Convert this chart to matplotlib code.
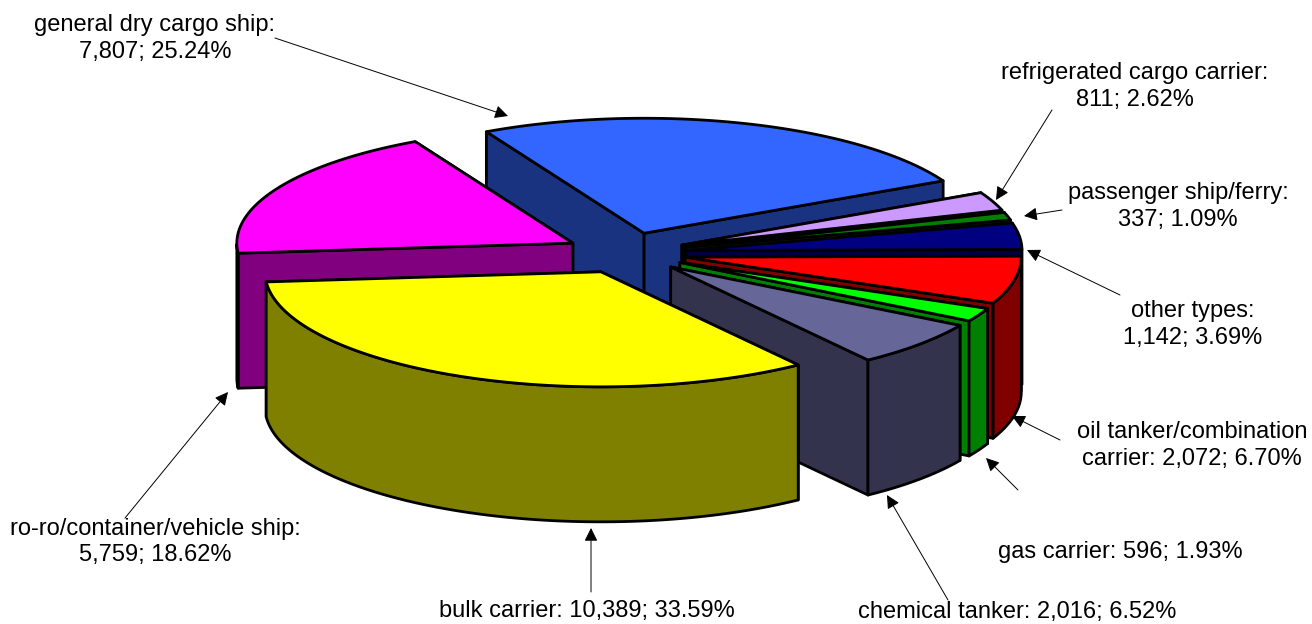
# %% Setup
import numpy as np
import matplotlib
matplotlib.use('Agg')
import matplotlib.pyplot as plt
from matplotlib.patches import Polygon

plt.rcParams['font.family'] = ['Liberation Sans', 'DejaVu Sans']

names = ['general dry cargo ship', 'refrigerated cargo carrier',
         'passenger ship/ferry', 'other types',
         'oil tanker/combination carrier', 'gas carrier', 'chemical tanker',
         'bulk carrier', 'ro-ro/container/vehicle ship']
values = [7807, 811, 337, 1142, 2072, 596, 2016, 10389, 5759]
percents = [25.24, 2.62, 1.09, 3.69, 6.70, 1.93, 6.52, 33.59, 18.62]
top_colors = ['#3366FF', '#CC99FF', '#008000', '#000080', '#FF0000',
              '#00FF00', '#666699', '#FFFF00', '#FF00FF']
side_colors = ['#1A3380', '#664C80', '#004000', '#000040', '#800000',
               '#008000', '#33334D', '#808000', '#800080']

# label wrapping is by hand because the original is not consistent
label_fmt = ['{n}:\n{v}; {p}', '{n}:\n{v}; {p}', '{n}:\n{v}; {p}',
             '{n}:\n{v}; {p}', 'oil tanker/combination\ncarrier: {v}; {p}',
             '{n}: {v}; {p}', '{n}: {v}; {p}', '{n}: {v}; {p}',
             '{n}:\n{v}; {p}']
label_pos = [(155, 38.5), (1135, 86.5), (1178, 206.5), (1193, 324.5),
             (1192, 445.5), (1120, 552), (1017, 612), (587, 611), (155, 542)]
arrow_tail = [(275, 38), (1052, 110), (1062, 210), (1120, 295), (1060, 440),
              (1018, 490), (948, 600), (591, 592), (125, 518)]
arrow_tip = [(508, 116), (996, 200), (1024, 216), (1027, 250), (1012, 416),
             (986, 458), (887, 495), (591, 528), (228, 392)]

# pie geometry in pixels
cx, cy = 626, 253
rx, ry = 336, 115
depth = 135
explode = 0.18
start_angle = 118


def ring(ang, off):
    a = np.radians(ang)
    return np.column_stack([off[0] + rx * np.cos(a), off[1] - ry * np.sin(a)])


# %% Plot
fig = plt.figure(figsize=(13.12, 6.24), dpi=100)
ax = fig.add_axes([0, 0, 1, 1])
ax.set_xlim(0, 1312)
ax.set_ylim(624, 0)
ax.axis('off')

shares = np.array(values) / np.sum(values) * 360
ends = start_angle - np.cumsum(shares)
starts = ends + shares
mids = (starts + ends) / 2

# back slices first
order = np.argsort(-np.sin(np.radians(mids)))
edge = dict(edgecolor='black', linewidth=2, joinstyle='round')
for z, i in enumerate(order):
    apex = np.array([cx + explode * rx * np.cos(np.radians(mids[i])),
                     cy - explode * ry * np.sin(np.radians(mids[i]))])
    angs = np.linspace(starts[i], ends[i], 120)
    arc = ring(angs, apex)
    down = np.array([0, depth])

    faces = []
    for p in (arc[0], arc[-1]):
        faces.append(np.array([apex, p, p + down, apex + down]))
    # back cut face goes first so the front one can cover it
    faces.sort(key=lambda f: f[:, 1].mean())
    sin_vals = np.sin(np.radians(angs))
    rim = arc[sin_vals <= 0]
    if len(rim) > 1:
        faces.append(np.vstack([rim, rim[::-1] + down]))

    for f in faces:
        ax.add_patch(Polygon(f, closed=True, facecolor=side_colors[i],
                             zorder=z + 1, **edge))
    ax.add_patch(Polygon(np.vstack([apex, arc]), closed=True,
                         facecolor=top_colors[i], zorder=z + 1, **edge))

for i in range(len(names)):
    txt = label_fmt[i].format(n=names[i], v=f'{values[i]:,}',
                              p=f'{percents[i]:.2f}%')
    ax.text(label_pos[i][0], label_pos[i][1], txt, ha='center', va='center',
            fontsize=17, linespacing=1.27, color='black', zorder=50)
    ax.annotate('', xy=arrow_tip[i], xytext=arrow_tail[i], zorder=49,
                arrowprops=dict(arrowstyle='-|>', color='black', lw=0.7,
                                mutation_scale=20, shrinkA=0, shrinkB=0))

fig.savefig('out.png', dpi=100)
